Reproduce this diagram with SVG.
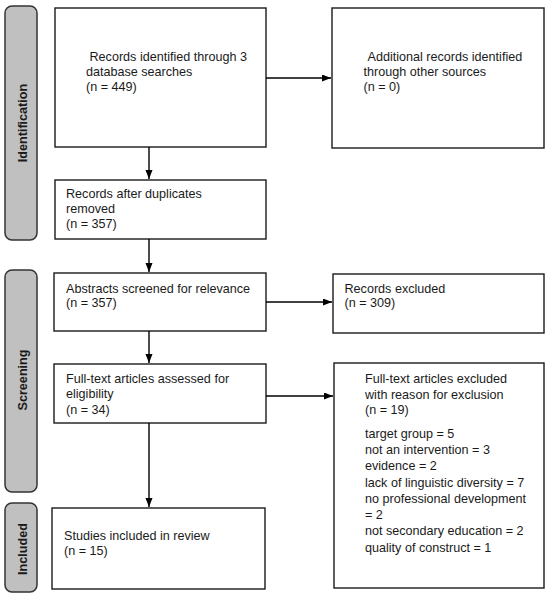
<svg xmlns="http://www.w3.org/2000/svg" width="550" height="595" viewBox="0 0 550 595">
<style>
.bg{fill:#ffffff}
.box{fill:#ffffff;stroke:#1a1a1a;stroke-width:1.4}
.side{fill:#c0c0c0;stroke:#333333;stroke-width:1.5}
.t{font-family:"Liberation Sans",Arial,sans-serif;font-size:12.6px;fill:#1a1a1a}
.st{font-family:"Liberation Sans",Arial,sans-serif;font-size:12.6px;font-weight:bold;fill:#1a1a1a;text-anchor:middle}
.c{fill:none;stroke:#000000;stroke-width:1.4}
</style>
<defs>
<marker id="ah" markerUnits="userSpaceOnUse" markerWidth="10" markerHeight="8" refX="9" refY="3.5" orient="auto">
<path d="M0,0 L9,3.5 L0,7 z" fill="#000000"/>
</marker>
</defs>
<rect class="bg" x="0" y="0" width="550" height="595"/>
<g id="phase-identification">
<rect class="side" x="5" y="6" width="32" height="234" rx="7"/>
<text class="st" transform="translate(26.5,123) rotate(-90)">Identification</text>
</g>
<g id="phase-screening">
<rect class="side" x="5" y="270" width="32" height="222" rx="7"/>
<text class="st" transform="translate(26.5,380) rotate(-90)">Screening</text>
</g>
<g id="phase-included">
<rect class="side" x="5" y="503" width="32" height="89" rx="7"/>
<text class="st" transform="translate(26.5,549) rotate(-90)">Included</text>
</g>
<g id="records-identified">
<rect class="box" x="55" y="8" width="211" height="139"/>
<text class="t" x="89.5" y="60.5">Records identified through 3</text>
<text class="t" x="86" y="75.5">database searches</text>
<text class="t" x="86" y="90.5">(n = 449)</text>
</g>
<g id="additional-records">
<rect class="box" x="332" y="8" width="212" height="140"/>
<text class="t" x="367.5" y="60.5">Additional records identified</text>
<text class="t" x="363.5" y="75.5">through other sources</text>
<text class="t" x="363.5" y="90.5">(n = 0)</text>
</g>
<g id="after-duplicates">
<rect class="box" x="55" y="180" width="211" height="59"/>
<text class="t" x="66" y="197.5">Records after duplicates</text>
<text class="t" x="66" y="213">removed</text>
<text class="t" x="66" y="228">(n = 357)</text>
</g>
<g id="abstracts-screened">
<rect class="box" x="54" y="273" width="212" height="58"/>
<text class="t" x="66" y="292.5">Abstracts screened for relevance</text>
<text class="t" x="66" y="307">(n = 357)</text>
</g>
<g id="records-excluded">
<rect class="box" x="333" y="274" width="211" height="59"/>
<text class="t" x="344.5" y="292.5">Records excluded</text>
<text class="t" x="344.5" y="307">(n = 309)</text>
</g>
<g id="fulltext-assessed">
<rect class="box" x="54" y="364" width="212" height="59"/>
<text class="t" x="66" y="382.5">Full-text articles assessed for</text>
<text class="t" x="66" y="398">eligibility</text>
<text class="t" x="66" y="413.5">(n = 34)</text>
</g>
<g id="fulltext-excluded">
<rect class="box" x="334" y="363" width="210" height="225"/>
<text class="t" x="365" y="383">Full-text articles excluded</text>
<text class="t" x="365" y="398.5">with reason for exclusion</text>
<text class="t" x="365" y="414">(n = 19)</text>
<text class="t" x="365" y="437.5">target group = 5</text>
<text class="t" x="365" y="454">not an intervention = 3</text>
<text class="t" x="365" y="470">evidence = 2</text>
<text class="t" x="365" y="486.5">lack of linguistic diversity = 7</text>
<text class="t" x="365" y="502.5">no professional development</text>
<text class="t" x="365" y="519">= 2</text>
<text class="t" x="365" y="535">not secondary education = 2</text>
<text class="t" x="365" y="551.5">quality of construct = 1</text>
</g>
<g id="studies-included">
<rect class="box" x="52" y="508" width="213" height="81"/>
<text class="t" x="64" y="539.5">Studies included in review</text>
<text class="t" x="64" y="554.5">(n = 15)</text>
</g>
<g id="connectors">
<line class="c" x1="266" y1="78" x2="331" y2="78" marker-end="url(#ah)"/>
<line class="c" x1="149" y1="147" x2="149" y2="179" marker-end="url(#ah)"/>
<line class="c" x1="149" y1="239" x2="149" y2="272" marker-end="url(#ah)"/>
<line class="c" x1="266" y1="302" x2="332" y2="302" marker-end="url(#ah)"/>
<line class="c" x1="149" y1="331" x2="149" y2="363" marker-end="url(#ah)"/>
<line class="c" x1="266" y1="396" x2="333" y2="396" marker-end="url(#ah)"/>
<line class="c" x1="149" y1="423" x2="149" y2="507" marker-end="url(#ah)"/>
</g>
</svg>
